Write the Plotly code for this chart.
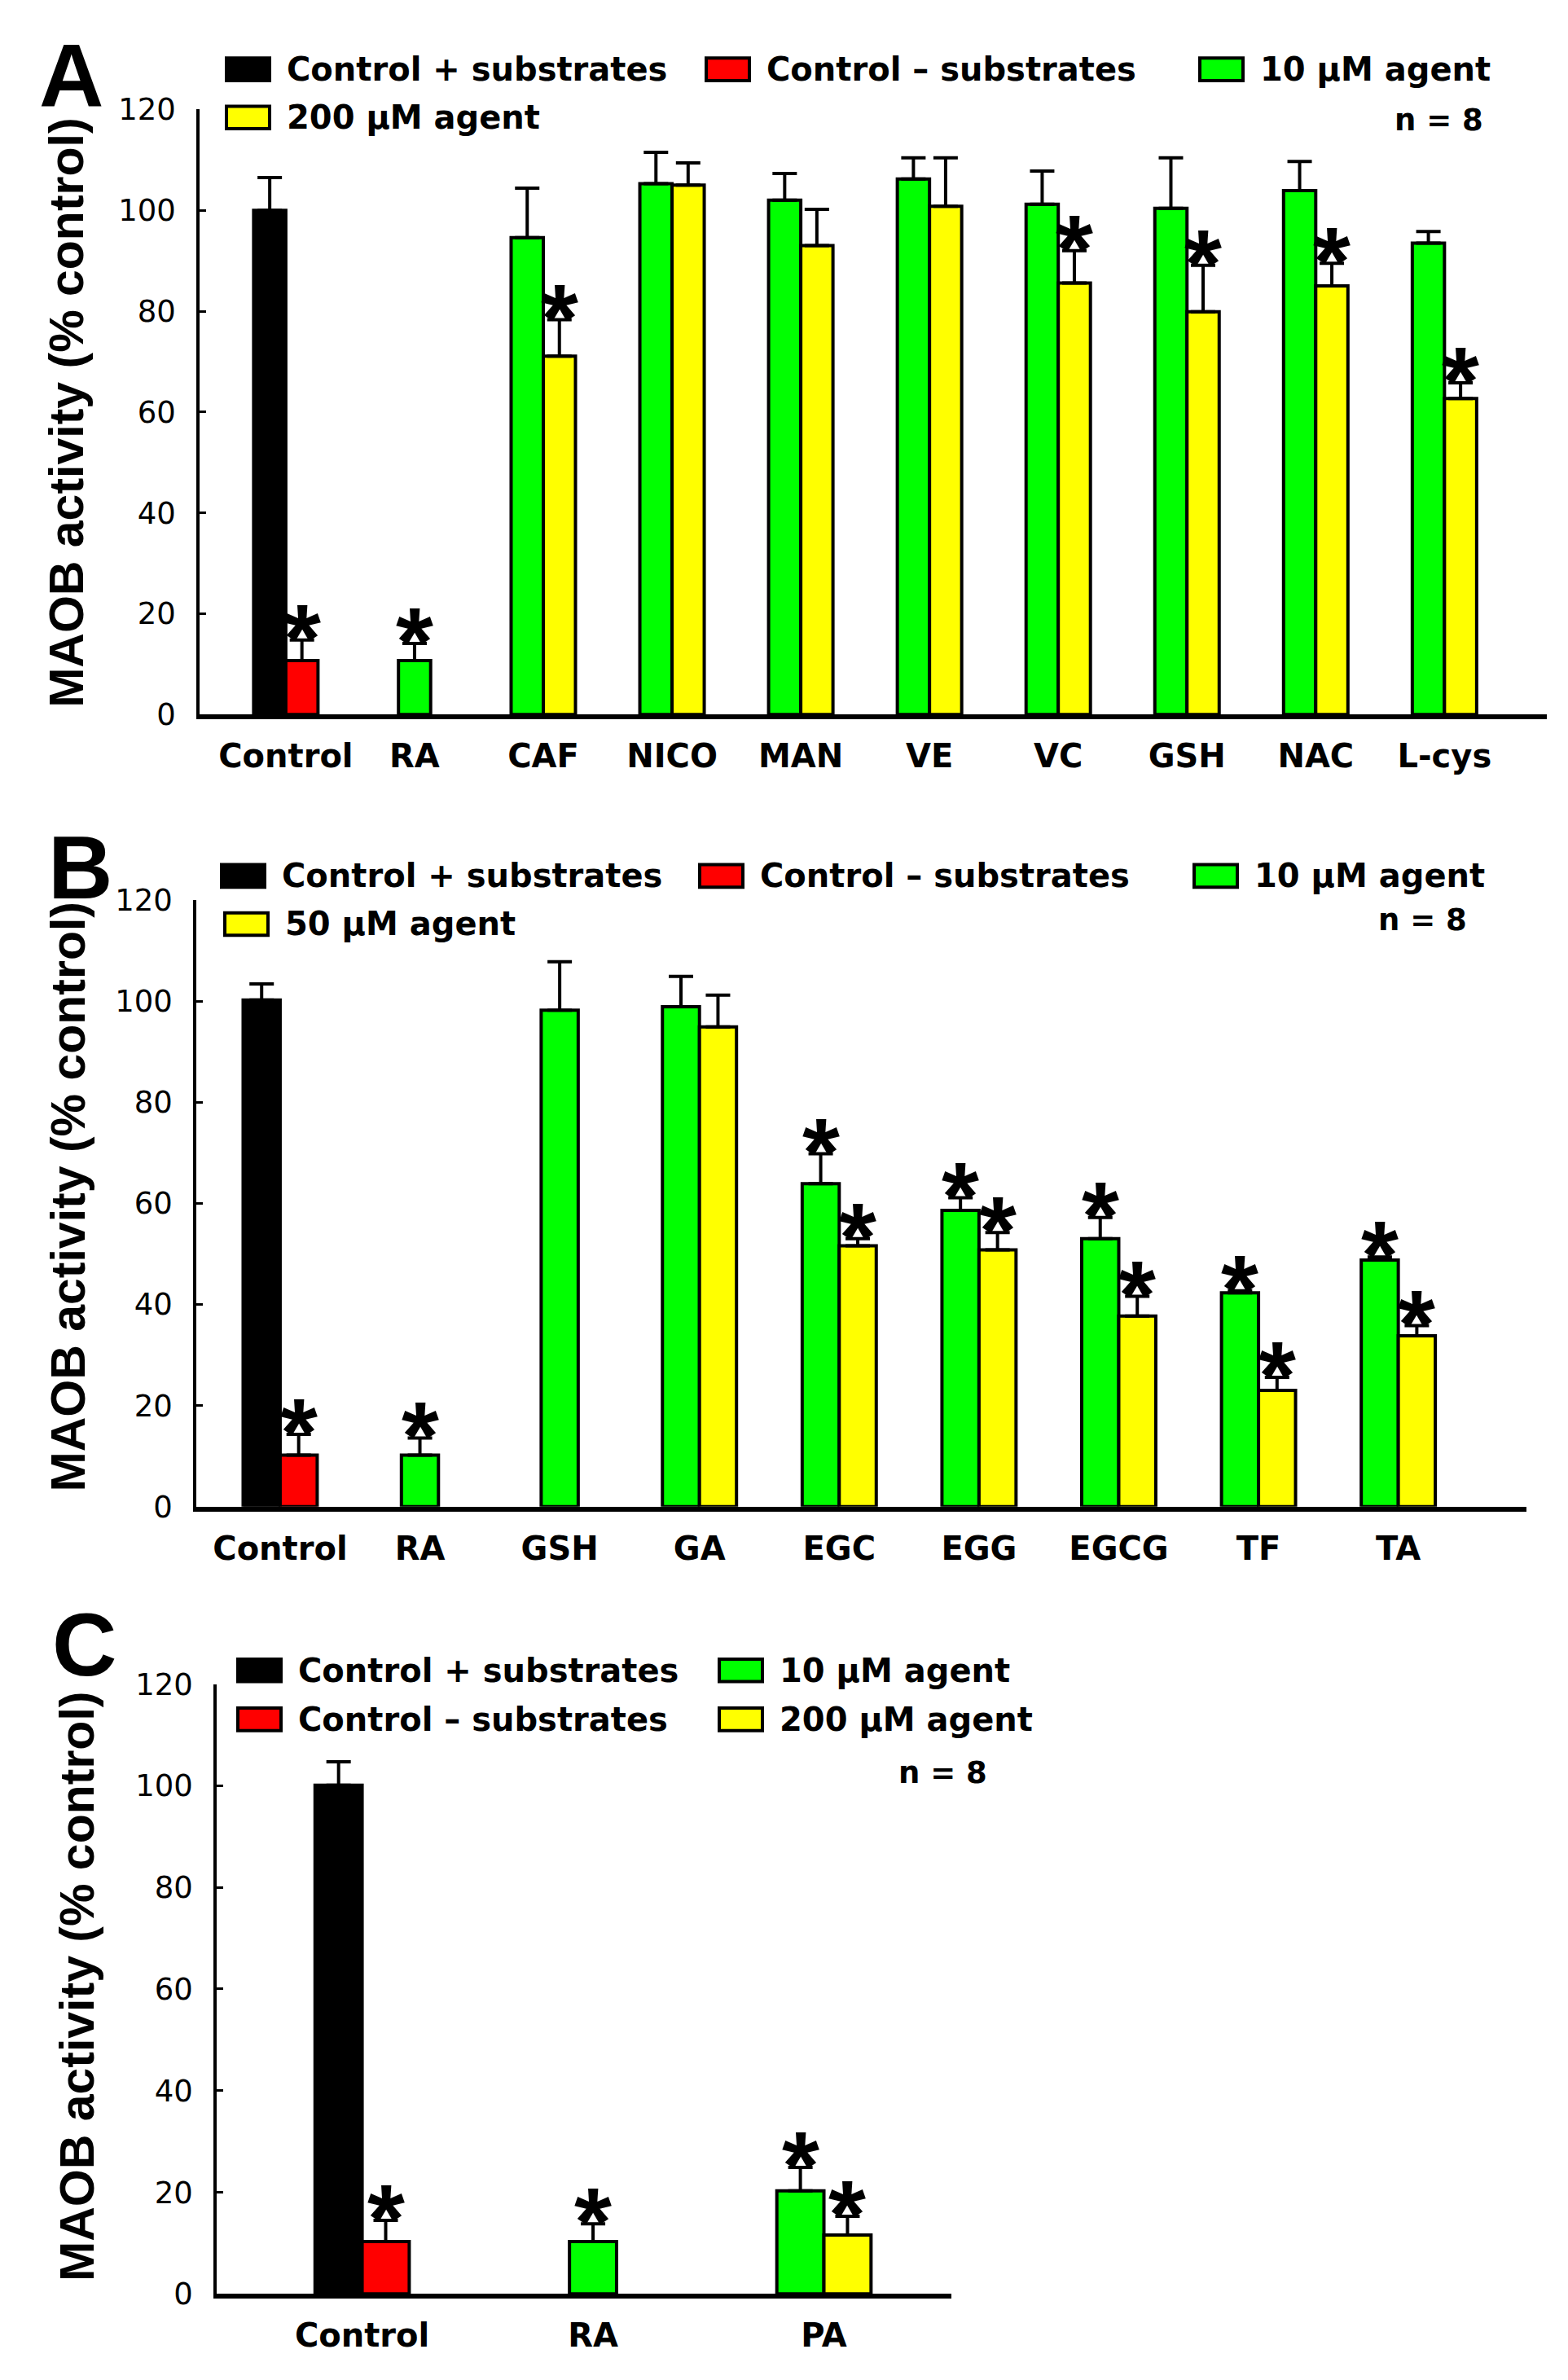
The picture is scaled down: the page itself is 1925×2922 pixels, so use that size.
import plotly.graph_objects as go

W, H = 1925, 2922
FONT = "Liberation Sans, Arial, sans-serif"
WIDE = "DejaVu Sans, Verdana, sans-serif"

# ---------------- data: panel A ----------------
cats_a = ["Control", "RA", "CAF", "NICO", "MAN", "VE", "VC", "GSH", "NAC", "L-cys"]
a_black_x = ["Control"]
a_black_y = [100.0]
a_black_err = [6.5]
a_black_sig = [False]
a_red_x = ["Control"]
a_red_y = [10.7]
a_red_err = [4.1]
a_red_sig = [True]
a_green_x = ["RA", "CAF", "NICO", "MAN", "VE", "VC", "GSH", "NAC", "L-cys"]
a_green_y = [10.7, 94.6, 105.3, 102.0, 106.2, 101.2, 100.4, 103.9, 93.5]
a_green_err = [3.4, 9.8, 6.2, 5.3, 4.2, 6.6, 10.0, 5.8, 2.3]
a_green_sig = [True, False, False, False, False, False, False, False, False]
a_yellow_x = ["CAF", "NICO", "MAN", "VE", "VC", "GSH", "NAC", "L-cys"]
a_yellow_y = [71.1, 105.0, 93.0, 100.8, 85.6, 79.9, 85.0, 62.7]
a_yellow_err = [7.2, 4.4, 7.2, 9.6, 6.4, 9.2, 4.5, 3.1]
a_yellow_sig = [True, False, False, False, True, True, True, True]
labels_a = ["Control + substrates", "Control \u2013 substrates", "10 \u03bcM agent", "200 \u03bcM agent"]

# ---------------- data: panel B ----------------
cats_b = ["Control", "RA", "GSH", "GA", "EGC", "EGG", "EGCG", "TF", "TA"]
b_black_x = ["Control"]
b_black_y = [100.2]
b_black_err = [3.2]
b_black_sig = [False]
b_red_x = ["Control"]
b_red_y = [10.2]
b_red_err = [4.1]
b_red_sig = [True]
b_green_x = ["RA", "GSH", "GA", "EGC", "EGG", "EGCG", "TF", "TA"]
b_green_y = [10.2, 98.2, 98.9, 63.9, 58.6, 53.0, 42.3, 48.8]
b_green_err = [3.4, 9.6, 6.0, 5.9, 2.5, 4.2, 0.4, 0.6]
b_green_sig = [True, False, False, True, True, True, True, True]
b_yellow_x = ["GA", "EGC", "EGG", "EGCG", "TF", "TA"]
b_yellow_y = [94.9, 51.6, 50.8, 37.7, 23.0, 33.8]
b_yellow_err = [6.3, 1.4, 3.4, 3.9, 2.6, 2.0]
b_yellow_sig = [False, True, True, True, True, True]
labels_b = ["Control + substrates", "Control \u2013 substrates", "10 \u03bcM agent", "50 \u03bcM agent"]

# ---------------- data: panel C ----------------
cats_c = ["Control", "RA", "PA"]
c_black_x = ["Control"]
c_black_y = [100.1]
c_black_err = [4.6]
c_black_sig = [False]
c_red_x = ["Control"]
c_red_y = [10.3]
c_red_err = [4.2]
c_red_sig = [True]
c_green_x = ["RA", "PA"]
c_green_y = [10.3, 20.3]
c_green_err = [3.5, 4.6]
c_green_sig = [True, True]
c_yellow_x = ["PA"]
c_yellow_y = [11.6]
c_yellow_err = [3.7]
c_yellow_sig = [True]
labels_c = ["Control + substrates", "Control \u2013 substrates", "10 \u03bcM agent", "200 \u03bcM agent"]

n_text = "n = 8"
y_title = "MAOB activity (% control)"
colors = ["#000000", "#ff0000", "#00ff00", "#ffff00"]


def px(x):
    return x / W


def py(y):
    return 1 - y / H


fig = go.Figure()
annotations = []
shapes = []

panels = [
    dict(cats=cats_a, k="", bw=0.25, xr=[-0.67, 9.795], dom_x=(237, 1891), dom_y=(107, 861),
         series=[(a_black_x, a_black_y, a_black_err, a_black_sig),
                 (a_red_x, a_red_y, a_red_err, a_red_sig),
                 (a_green_x, a_green_y, a_green_err, a_green_sig),
                 (a_yellow_x, a_yellow_y, a_yellow_err, a_yellow_sig)],
         labels=labels_a,
         leg=[(270, 57), (859, 57), (1465, 57), (270, 117)],
         n_pos=(1815, 120), letter="A", letter_pos=(38, 63), title_pos=(74, 485)),
    dict(cats=cats_b, k="2", bw=0.265, xr=[-0.6, 8.917], dom_x=(233, 1866), dom_y=(1092, 1848),
         series=[(b_black_x, b_black_y, b_black_err, b_black_sig),
                 (b_red_x, b_red_y, b_red_err, b_red_sig),
                 (b_green_x, b_green_y, b_green_err, b_green_sig),
                 (b_yellow_x, b_yellow_y, b_yellow_err, b_yellow_sig)],
         labels=labels_b,
         leg=[(264, 1062), (851, 1062), (1458, 1062), (268, 1122)],
         n_pos=(1795, 1117), letter="B", letter_pos=(49, 1051), title_pos=(76, 1462)),
    dict(cats=cats_c, k="3", bw=0.204, xr=[-0.63, 2.552], dom_x=(258, 1160), dom_y=(2069, 2829),
         series=[(c_black_x, c_black_y, c_black_err, c_black_sig),
                 (c_red_x, c_red_y, c_red_err, c_red_sig),
                 (c_green_x, c_green_y, c_green_err, c_green_sig),
                 (c_yellow_x, c_yellow_y, c_yellow_err, c_yellow_sig)],
         labels=labels_c,
         leg=[(284, 2052), (284, 2113), (875, 2052), (875, 2113)],
         n_pos=(1206, 2180), letter="C", letter_pos=(54, 2019), title_pos=(87, 2446)),
]

STAR = 118

for p in panels:
    cats, w, k = p["cats"], p["bw"], p["k"]
    xref, yref = "x" + k, "y" + k
    for si, (xs, ys, errs, sig) in enumerate(p["series"]):
        # left bar of a pair sits left of the category centre, a lone bar is centred
        partner = p["series"][si + 1][0] if si % 2 == 0 else None
        if partner is None:
            offs = [0.0] * len(xs)
        else:
            offs = [-w if c in partner else -w / 2 for c in xs]
        fig.add_trace(go.Bar(
            x=xs, y=ys, width=w, offset=offs,
            marker=dict(color=colors[si], line=dict(color="black", width=4)),
            error_y=dict(type="data", symmetric=False, array=errs, arrayminus=[0] * len(xs),
                         color="black", thickness=4, width=15),
            xaxis=xref, yaxis=yref, name=p["labels"][si], showlegend=False,
        ))
        for c, v, e, s, o in zip(xs, ys, errs, sig, offs):
            if s:
                annotations.append(dict(
                    x=cats.index(c) + o + w / 2, y=v + e, xref=xref, yref=yref,
                    text="*", showarrow=False, yanchor="bottom", yshift=-0.56 * STAR,
                    font=dict(family=FONT, size=STAR, color="black", weight="bold")))

    fig.layout["xaxis" + k] = dict(
        domain=[px(p["dom_x"][0]), px(p["dom_x"][1])], anchor=yref,
        type="category", categoryorder="array", categoryarray=cats, range=p["xr"],
        showline=True, linewidth=6, linecolor="black", ticks="", showgrid=False,
        zeroline=False, ticklabelstandoff=11,
        tickfont=dict(family=WIDE, size=40, color="black", weight="bold"))
    fig.layout["yaxis" + k] = dict(
        domain=[py(p["dom_y"][1]), py(p["dom_y"][0])], anchor=xref,
        range=[0, 120], dtick=20, showline=True, linewidth=3.5, linecolor="black",
        ticks="inside", ticklen=8, tickwidth=3, tickcolor="black", showgrid=False,
        zeroline=False, ticklabelstandoff=18,
        tickfont=dict(family=WIDE, size=37, color="black"))

    # legend drawn by hand so the swatches match the large boxes of the original
    for (lx, ly), lab, col in zip(p["leg"], p["labels"], colors):
        shapes.append(dict(type="rect", xref="paper", yref="paper",
                           x0=px(lx), x1=px(lx + 53), y0=py(ly + 14), y1=py(ly - 14),
                           fillcolor=col, line=dict(color="black", width=4)))
        annotations.append(dict(x=px(lx + 72), y=py(ly), xref="paper", yref="paper",
                                text=lab, showarrow=False, xanchor="left", yanchor="middle",
                                font=dict(family=WIDE, size=40, color="black", weight="bold")))

    annotations.append(dict(x=px(p["n_pos"][0]), y=py(p["n_pos"][1]), xref="paper", yref="paper",
                            text=n_text, showarrow=False, xanchor="right", yanchor="middle",
                            font=dict(family=WIDE, size=37, color="black", weight="bold")))
    annotations.append(dict(x=px(p["letter_pos"][0]), y=py(p["letter_pos"][1]), xref="paper",
                            yref="paper", text=p["letter"], showarrow=False, xanchor="left",
                            yanchor="middle",
                            font=dict(family=FONT, size=110, color="black", weight="bold")))
    annotations.append(dict(x=px(p["title_pos"][0]), y=py(p["title_pos"][1]), xref="paper",
                            yref="paper", text=y_title, showarrow=False, textangle=-90,
                            xanchor="center", yanchor="middle",
                            font=dict(family=FONT, size=59, color="black", weight="bold")))

fig.update_layout(
    width=W, height=H,
    margin=dict(l=0, r=0, t=0, b=0),
    plot_bgcolor="white", paper_bgcolor="white",
    barmode="overlay", showlegend=False,
    annotations=annotations, shapes=shapes,
    font=dict(family=FONT, color="black"),
)

fig.write_html("out.html")
